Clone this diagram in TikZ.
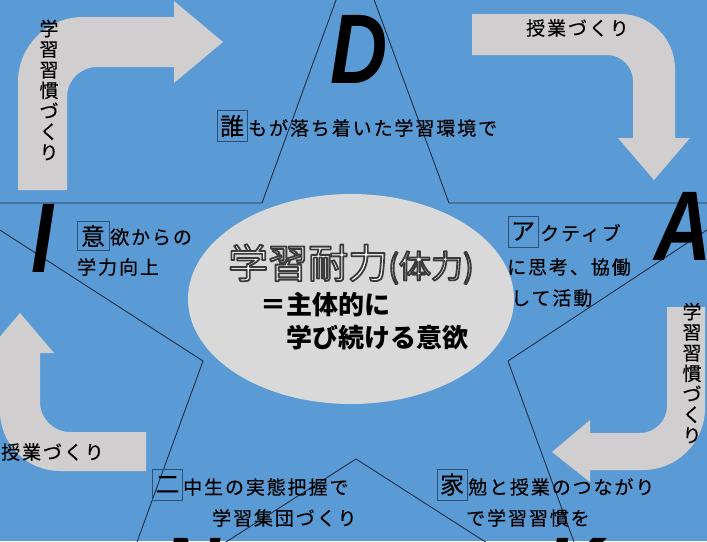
\documentclass[tikz,border=0pt]{standalone}
\usepackage{fontspec}
\usepackage{graphicx}
\newfontfamily\jp{Noto Sans CJK JP}
\newfontfamily\jpm{Noto Sans CJK JP}[FakeBold=0.4]
\newfontfamily\jpl{Noto Sans CJK JP}[LetterSpace=10,FakeBold=0.4]
\newfontfamily\lat{Liberation Sans}
\definecolor{bgc}{HTML}{5B9BD5}
\definecolor{arrowc}{HTML}{D0CECE}
\definecolor{ellc}{HTML}{D9D9D9}
\definecolor{starc}{HTML}{1E2E48}
\definecolor{boxc}{HTML}{2F4F75}
\newcommand\outlinedtext[1]{{\color{white}%
  \special{pdf:literal direct 0.23 0.23 0.23 RG 1.8 w 1 j 2 Tr}#1%
  \special{pdf:literal direct 0 Tr}}}
\begin{document}
\begin{tikzpicture}[x=1pt,y=-1pt,
  lbl/.style={font=\jpl\fontsize{19}{21}\selectfont, inner sep=0pt, anchor=west, text=black},
  boxch/.style={draw=boxc, line width=0.8pt, font=\jpm\fontsize{24}{24}\selectfont, inner sep=0pt, minimum width=30pt, minimum height=31pt},
  vlbl/.style={font=\jpm\fontsize{19}{20.6}\selectfont, align=center, inner sep=0pt},
  bigletter/.style={font=\lat\bfseries\itshape\fontsize{99}{99}\selectfont, inner sep=0pt, anchor=base west},
  arrowshape/.style={fill=arrowc},
  starline/.style={draw=starc, line width=0.9pt, line join=miter},
  boldjp/.style={font=\jp\bfseries\fontsize{26}{26}\selectfont, inner sep=0pt, anchor=west}]
\useasboundingbox (0,0) rectangle (707,541);
\clip (0,0) rectangle (707,541);
\fill[bgc] (0,0) rectangle (707,541);
% star
\draw[starline] (355,-52) -- (449,203) -- (748,203) -- (508,361) -- (601,616)
  -- (356,459) -- (110,616) -- (203,361) -- (-42,203) -- (262,203) -- cycle;
% arrows
\fill[arrowshape] (18,190) -- (18,82) arc[start angle=180,end angle=270,radius=65]
  -- (174,17) -- (174,1) -- (223,42) -- (174,83) -- (174,67) -- (97,67)
  arc[start angle=270,end angle=180,radius=30] -- (67,190) -- cycle;
\fill[arrowshape] (472,14) -- (620,14) arc[start angle=270,end angle=360,radius=55]
  -- (675,138) -- (690,138) -- (654,180) -- (618,138) -- (633,138) -- (633,81)
  arc[start angle=0,end angle=-90,radius=26] -- (472,55) -- cycle;
\fill[arrowshape] (667,307) -- (705,307) -- (705,408) arc[start angle=0,end angle=90,radius=62]
  -- (590,470) -- (590,482) -- (552,452) -- (590,420) -- (590,433) -- (640,433)
  arc[start angle=90,end angle=0,radius=27] -- (667,307) -- cycle;
\fill[arrowshape] (146,432) -- (146,471) -- (60,471) arc[start angle=90,end angle=180,radius=60]
  -- (0,353) -- (-14,353) -- (20,313) -- (54,353) -- (40,353) -- (40,402)
  arc[start angle=180,end angle=90,radius=30] -- cycle;
% ellipse
\fill[ellc] (351,299) ellipse[x radius=163, y radius=105];
% arrow labels
\node[vlbl] (habitL) at (49,90) {学\\習\\習\\慣\\づ\\く\\り};
\node[vlbl] (habitR) at (692,373) {学\\習\\習\\慣\\づ\\く\\り};
\node[lbl] (lessonT) at (526,28) {授業づくり};
\node[lbl] (lessonB) at (1,452) {授業づくり};
% center text
\node[anchor=base west, inner sep=0pt, font=\jp\fontsize{40}{40}\selectfont] (title) at (228,278)
  {\outlinedtext{学習耐力}{\fontsize{32}{32}\selectfont\outlinedtext{(体力)}}};
\node[boldjp] (eq1) at (260,305) {＝主体的に};
\node[boldjp] (eq2) at (286,338) {学び続ける意欲};
% labels with boxed initials
\node[boxch] (dare) at (232,126) {誰};
\node[lbl] (dareT) at (248,128) {もが落ち着いた学習環境で};
\node[boxch] (aku) at (523,231.5) {ア};
\node[lbl] (akuT1) at (540,233) {クティブ};
\node[lbl] (akuT2) at (507,267) {に思考、協働};
\node[lbl] (akuT3) at (511,298) {して活動};
\node[boxch, minimum width=32pt, minimum height=29pt] (iyoku) at (93,236) {意};
\node[lbl] (iyokuT1) at (110,237) {欲からの};
\node[lbl] (iyokuT2) at (77,267) {学力向上};
\node[boxch] (ni) at (167.5,484.5) {二};
\node[lbl] (niT1) at (183,487) {中生の実態把握で};
\node[lbl] (niT2) at (212,518) {学習集団づくり};
\node[boxch] (ka) at (452,484.5) {家};
\node[lbl] (kaT1) at (468,487) {勉と授業のつながり};
\node[lbl] (kaT2) at (466,518) {で学習習慣を};
% big letters
\node[bigletter] (LD) at (330,83) {\scalebox{0.8}[1]{D}};
\node[bigletter] (LA) at (654,260) {\scalebox{0.8}[1]{A}};
\node[bigletter] (LI) at (31,272) {\scalebox{0.8}[1]{I}};
\node[bigletter] (LN) at (162,606) {\scalebox{0.8}[1]{N}};
\node[bigletter] (LK) at (545,606) {\scalebox{0.8}[1]{K}};
\end{tikzpicture}
\end{document}
